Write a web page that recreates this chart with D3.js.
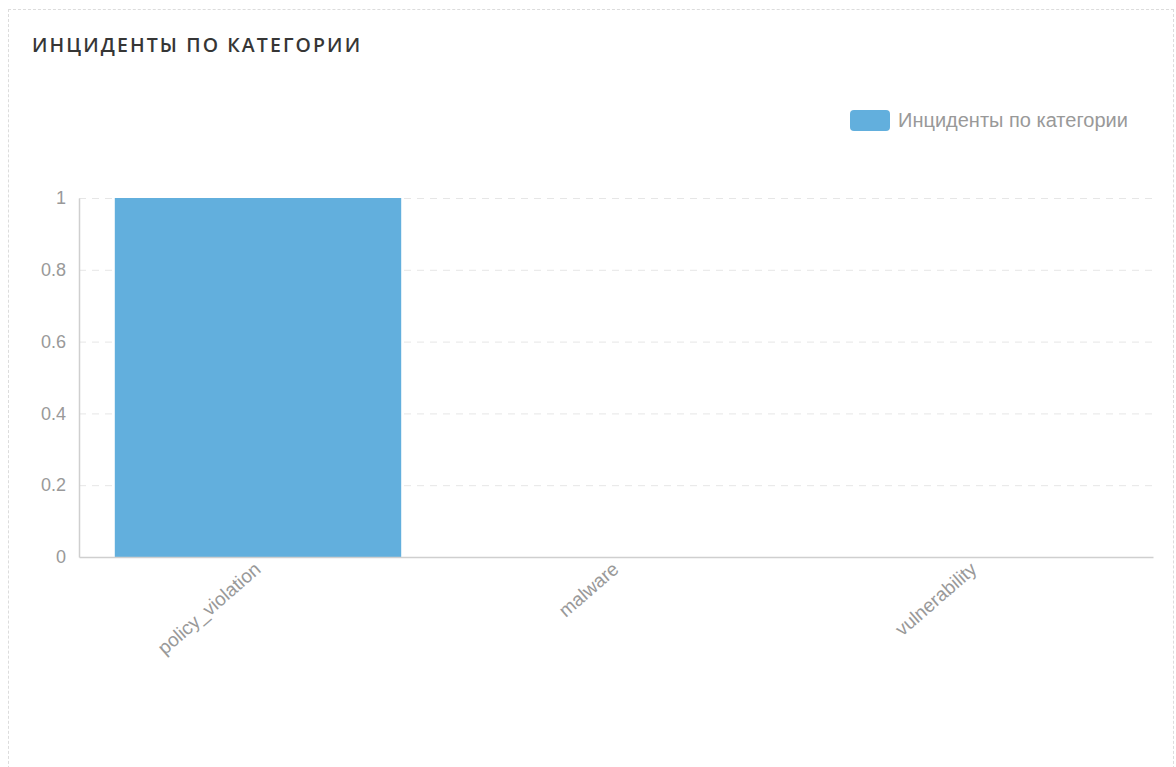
<!DOCTYPE html>
<html>
<head>
<meta charset="utf-8">
<script src="https://cdn.jsdelivr.net/npm/d3@7"></script>
<style>
  html, body { margin: 0; padding: 0; background: #fff; }
  .card {
    position: absolute; left: 8px; top: 9px; width: 1166px; height: 780px;
    border: 1px dashed #dcdcdc; box-sizing: border-box;
  }
  .title {
    position: absolute; left: 23px; top: 21px; margin: 0;
    font-family: "Open Sans", sans-serif; font-weight: 600; font-size: 19.5px;
    letter-spacing: 2.1px; color: #363636;
  }
  svg { position: absolute; left: 0; top: 0; }
</style>
</head>
<body>
<div class="card"><p class="title">ИНЦИДЕНТЫ ПО КАТЕГОРИИ</p></div>
<div id="chart"></div>
<script>
//
// Data
//
var categories = ["policy_violation", "malware", "vulnerability"];
var counts     = [1, 0, 0];
var yTicks     = [0, 0.2, 0.4, 0.6, 0.8, 1];
var seriesName = "Инциденты по категории";

//
// Layout
//
var width = 1176, height = 767,
    plot = { left: 79, right: 1153, top: 198, bottom: 557 },
    barColor = "#62afdd",
    font = "'Liberation Sans', Arial, sans-serif";

var svg = d3.select("#chart").append("svg")
    .attr("width", width)
    .attr("height", height);

var x = d3.scaleBand().domain(categories).range([plot.left, plot.right]).padding(0);
var y = d3.scaleLinear().domain([0, 1]).range([plot.bottom, plot.top]);

// grid lines
svg.append("g")
    .selectAll("line")
    .data(yTicks.filter(function(d) { return d > 0; }))
    .enter().append("line")
    .attr("x1", plot.left)
    .attr("x2", plot.right)
    .attr("y1", function(d) { return y(d) + 0.5; })
    .attr("y2", function(d) { return y(d) + 0.5; })
    .attr("stroke", "#e6e6e6")
    .attr("stroke-width", 1)
    .attr("stroke-dasharray", "7,6");

// bars
svg.append("g")
    .selectAll("rect")
    .data(categories)
    .enter().append("rect")
    .attr("x", function(d) { return x(d) + x.bandwidth() * 0.1; })
    .attr("width", x.bandwidth() * 0.8)
    .attr("y", function(d, i) { return y(counts[i]); })
    .attr("height", function(d, i) { return plot.bottom - y(counts[i]); })
    .attr("fill", barColor);

// y axis
var yAxis = svg.append("g")
    .attr("transform", "translate(" + plot.left + ",0)")
    .call(d3.axisLeft(y).tickValues(yTicks).tickSize(0).tickPadding(13)
        .tickFormat(function(d) { return String(d); }));
yAxis.select(".domain").attr("stroke", "#cfcfcf").attr("stroke-width", 1.5);
yAxis.selectAll("text")
    .attr("fill", "#999")
    .style("font-family", font)
    .style("font-size", "18px");

// x axis
var xAxis = svg.append("g")
    .attr("transform", "translate(0," + plot.bottom + ")")
    .call(d3.axisBottom(x).tickSize(0).tickPadding(0));
xAxis.select(".domain").attr("stroke", "#cfcfcf").attr("stroke-width", 1.5);
xAxis.selectAll("text")
    .attr("fill", "#999")
    .style("font-family", font)
    .style("font-size", "19px")
    .attr("text-anchor", "end")
    .attr("dy", 0)
    .attr("transform", "translate(4,14) rotate(-41)");

// legend
var legend = svg.append("g").attr("transform", "translate(850,110)");
legend.append("rect")
    .attr("width", 40).attr("height", 21)
    .attr("rx", 4)
    .attr("fill", barColor);
legend.append("text")
    .attr("x", 48).attr("y", 17)
    .attr("fill", "#999")
    .style("font-family", font)
    .style("font-size", "20px")
    .text(seriesName);
</script>
</body>
</html>
